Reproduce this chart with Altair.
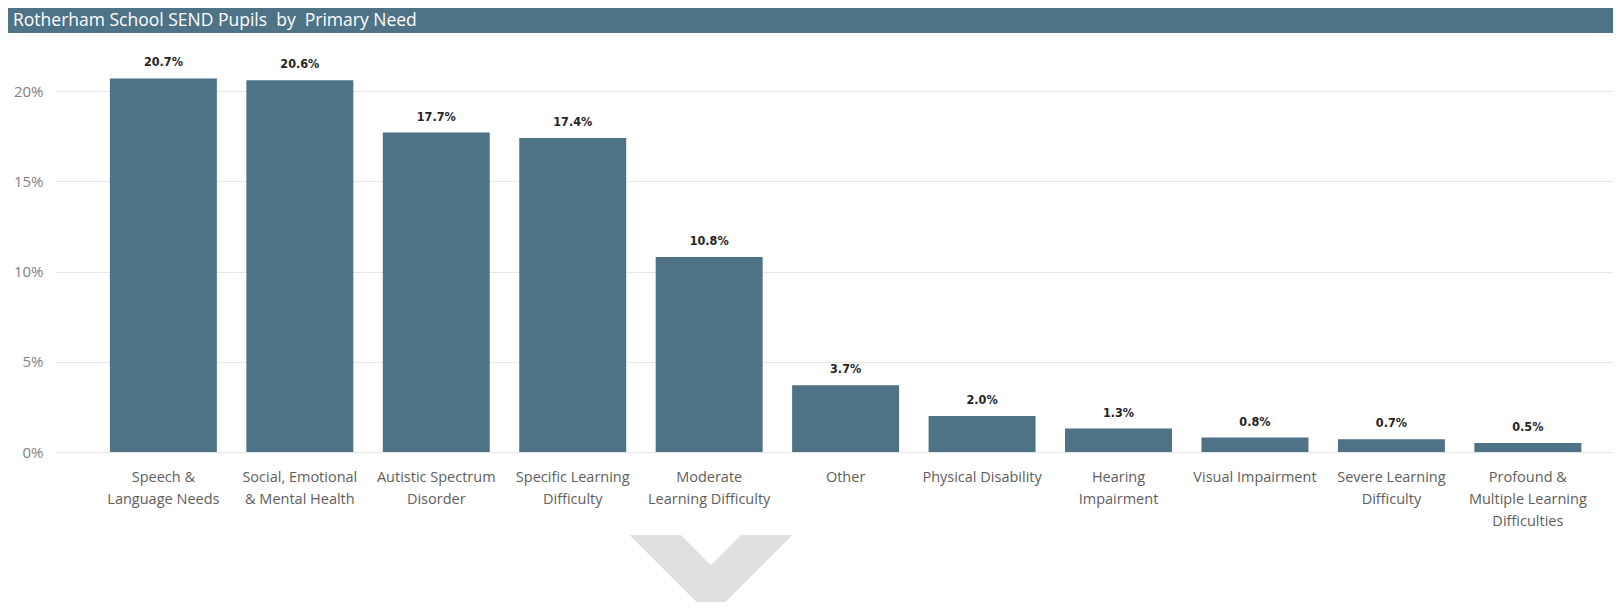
import altair as alt
import pandas as pd

# ---- data ----
categories = [
    "Speech &|Language Needs",
    "Social, Emotional|& Mental Health",
    "Autistic Spectrum|Disorder",
    "Specific Learning|Difficulty",
    "Moderate|Learning Difficulty",
    "Other",
    "Physical Disability",
    "Hearing|Impairment",
    "Visual Impairment",
    "Severe Learning|Difficulty",
    "Profound &|Multiple Learning|Difficulties",
]
shares = [20.7, 20.6, 17.7, 17.4, 10.8, 3.7, 2.0, 1.3, 0.8, 0.7, 0.5]
y_ticks = [0, 5, 10, 15, 20]
title_text = "Rotherham School SEND Pupils\u00a0 by\u00a0 Primary Need"

df = pd.DataFrame({"need": categories, "share": shares})

W, H = 1557, 397
BAR = "#4e7387"
FONT = "Open Sans"

x_enc = alt.X(
    "need:N",
    sort=None,
    title=None,
    scale=alt.Scale(paddingInner=0.216, paddingOuter=0.3135, align=0.63),
    axis=alt.Axis(
        labelExpr="split(datum.label, '|')",
        labelAngle=0,
        labelFont=FONT,
        labelFontSize=14.5,
        labelColor="#605E5C",
        labelLineHeight=22,
        labelPadding=18,
        labelLimit=250,
        ticks=False,
        domain=False,
        grid=False,
    ),
)
y_enc = alt.Y(
    "share:Q",
    title=None,
    scale=alt.Scale(domain=[0, 22], nice=False),
    axis=alt.Axis(
        values=y_ticks,
        labelExpr="datum.value + '%'",
        labelFont=FONT,
        labelFontSize=15,
        labelColor="#808080",
        labelPadding=13,
        ticks=False,
        domain=False,
        grid=True,
        gridColor="#e6e6e6",
        gridWidth=1,
    ),
)

base = alt.Chart(df)
bars = base.mark_bar(color=BAR).encode(x=x_enc, y=y_enc)
labels = (
    base.transform_calculate(lbl="format(datum.share, '.1f') + '%'")
    .mark_text(
        dy=-12,
        baseline="alphabetic",
        font="DejaVu Sans Condensed",
        fontWeight="bold",
        fontSize=12.5,
        color="#252423",
    )
    .encode(x=alt.X("need:N", sort=None), y=alt.Y("share:Q"), text="lbl:N")
)

header_df = pd.DataFrame({"t": [title_text]})
header_band = alt.Chart(header_df).mark_rect(color=BAR).encode(
    x=alt.value(-48), x2=alt.value(W), y=alt.value(-47), y2=alt.value(-22)
)
header_text = alt.Chart(header_df).mark_text(
    align="left", baseline="middle", color="white", font=FONT, fontSize=17.5
).encode(x=alt.value(-43), y=alt.value(-34), text="t:N")

chevron = alt.Chart(pd.DataFrame({"c": [0]})).mark_point(
    shape="M -1 0 L -0.37 0 L 0 0.37 L 0.37 0 L 1 0 L 0 1 Z",
    filled=True,
    color="#e0e0e0",
    opacity=1,
    size=26569,
    strokeWidth=0,
).encode(x=alt.value(655), y=alt.value(480))

chart = (
    alt.layer(bars, labels, header_band, header_text, chevron)
    .properties(
        width=W,
        height=H,
        autosize=alt.AutoSizeParams(type="none"),
        padding={"left": 48, "top": 47, "right": 0, "bottom": 150},
        background="white",
    )
    .configure_view(stroke=None)
)

chart.save("out.html", embed_options={"renderer": "svg", "actions": False})
